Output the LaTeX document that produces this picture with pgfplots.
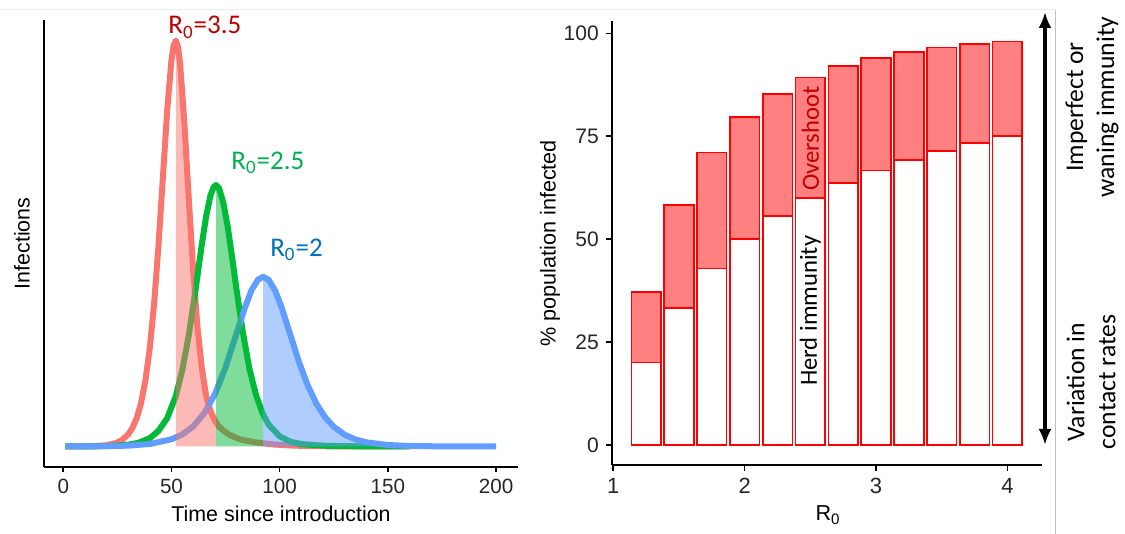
\documentclass[border=0pt]{standalone}
\usepackage{fontspec}
\setmainfont{Liberation Sans}
\newfontfamily\calfont{Carlito}
\usepackage{pgfplots}
\usepackage{pgfplotstable}
\pgfplotsset{compat=1.18}
\usetikzlibrary{arrows.meta}

\definecolor{cRed}{HTML}{F8766D}
\definecolor{cGreen}{HTML}{00BA38}
\definecolor{cBlue}{HTML}{619CFF}
\definecolor{lRed}{HTML}{C00000}
\definecolor{lGreen}{HTML}{00B050}
\definecolor{lBlue}{HTML}{0070C0}
\definecolor{barFill}{HTML}{FF8080}

\pgfplotstableread{
t v
1 0
10 0.0004
15 0.0011
20 0.0032
24 0.0079
27 0.0153
30 0.0299
32 0.0463
34 0.0707
36 0.108
38 0.164
40 0.243
42 0.353
44 0.495
46 0.660
48 0.826
50 0.952
51 0.988
52 1.000
53 0.985
54 0.943
56 0.794
58 0.610
60 0.436
62 0.295
64 0.194
66 0.125
68 0.088
70 0.064
70.6 0.0595
72 0.049
74 0.039
77 0.028
82 0.017
89 0.010
97 0.005
107 0.002
122 0.0005
160 0
}\redtab

\pgfplotstableread{
t v
52 1.000
53 0.985
54 0.943
56 0.794
58 0.610
60 0.436
62 0.295
64 0.194
66 0.125
68 0.088
70 0.064
70.6 0.0595
}\redfill

\pgfplotstableread{
t v
1 0
10 0.0002
20 0.0009
30 0.0043
35 0.0095
40 0.0205
44 0.0386
48 0.0695
52 0.124
55 0.188
58 0.274
61 0.381
64 0.497
66 0.566
68 0.618
69.5 0.639
70.6 0.644
72 0.636
74 0.600
76 0.541
78 0.467
80 0.389
83 0.281
86 0.192
89 0.128
92 0.083
92.4 0.079
95 0.053
100 0.025
105 0.0117
110 0.0060
120 0.0020
130 0.0008
140 0.0003
160 0
}\greentab

\pgfplotstableread{
t v
70.6 0.644
72 0.636
74 0.600
76 0.541
78 0.467
80 0.389
83 0.281
86 0.192
89 0.128
92 0.083
92.4 0.079
}\greenfill

\pgfplotstableread{
t v
1 0.0001
10 0.00025
20 0.0007
30 0.0021
40 0.0061
50 0.0178
55 0.0296
60 0.0493
65 0.0807
70 0.128
75 0.195
80 0.277
84 0.343
87 0.385
90 0.411
92.4 0.418
95 0.410
98 0.383
101 0.341
105 0.274
109 0.207
113 0.150
117 0.105
121 0.072
125 0.0485
130 0.029
135 0.0173
140 0.0103
150 0.0036
160 0.0012
175 0.0003
200 0
}\bluetab

\pgfplotstableread{
t v
92.4 0.418
95 0.410
98 0.383
101 0.341
105 0.274
109 0.207
113 0.150
117 0.105
121 0.072
125 0.0485
130 0.029
135 0.0173
140 0.0103
150 0.0036
160 0.0012
175 0.0003
200 0
}\bluefill

% herd immunity threshold and total final size (% of population)
\pgfplotstableread{
R herd total
1.25 20.00 37.14
1.50 33.33 58.28
1.75 42.86 71.05
2.00 50.00 79.68
2.25 55.56 85.31
2.50 60.00 89.26
2.75 63.64 92.03
3.00 66.67 94.05
3.25 69.23 95.51
3.50 71.43 96.60
3.75 73.33 97.41
4.00 75.00 98.02
}\bartab

\begin{document}
\begin{tikzpicture}
\useasboundingbox (0,0) rectangle (562.5pt,267pt);
\draw[black!8, line width=0.5pt] (0,262pt) -- (527.5pt,262pt);
\draw[black!25, line width=0.5pt] (527.5pt,0) -- (527.5pt,262pt);

\begin{axis}[
  at={(21.95pt,33.6pt)}, anchor=south west,
  scale only axis, width=236.85pt, height=223.3pt,
  xmin=-8.95, xmax=209.95, ymin=-0.05, ymax=1.05,
  axis lines=left, axis line style={-, line width=0.8pt},
  xtick={0,50,100,150,200}, ytick=\empty,
  tick align=outside, major tick length=2.5pt,
  tick style={black, line width=0.8pt},
  /pgf/number format/assume math mode=true,
  xticklabel style={font=\fontsize{10.3}{12}\selectfont, text=black!85},
  xlabel={Time since introduction}, ylabel={Infections},
  label style={font=\fontsize{10.7}{12}\selectfont},
  xlabel style={at={(axis description cs:0.5005,-0.1214)}, anchor=base},
  ylabel style={at={(axis description cs:-0.0464,0.5)}, anchor=center},
  clip=false]
\addplot[cRed, line width=3pt, line join=round] table[x=t,y=v] {\redtab};
\addplot[cGreen, line width=3pt, line join=round] table[x=t,y=v] {\greentab};
\addplot[cBlue, line width=3pt, line join=round] table[x=t,y=v] {\bluetab};
\addplot[draw=none, fill=cRed, fill opacity=0.5] table[x=t,y=v] {\redfill} \closedcycle;
\addplot[draw=none, fill=cGreen, fill opacity=0.5] table[x=t,y=v] {\greenfill} \closedcycle;
\addplot[draw=none, fill=cBlue, fill opacity=0.5] table[x=t,y=v] {\bluefill} \closedcycle;
\node[anchor=base west, inner sep=0pt, font=\calfont\fontsize{13.5}{16}\selectfont, text=lRed] at (axis cs:48.4,1.016) {R\textsubscript{0}=3.5};
\node[anchor=base west, inner sep=0pt, font=\calfont\fontsize{13.5}{16}\selectfont, text=lGreen] at (axis cs:77.5,0.683) {R\textsubscript{0}=2.5};
\node[anchor=base west, inner sep=0pt, font=\calfont\fontsize{13.5}{16}\selectfont, text=lBlue] at (axis cs:95.5,0.469) {R\textsubscript{0}=2};
\end{axis}

\begin{axis}[
  at={(305.9pt,34.4pt)}, anchor=south west,
  scale only axis, width=215pt, height=221.9pt,
  xmin=0.9888, xmax=4.2613, ymin=-4.9, ymax=102.9,
  axis lines=left, axis line style={-, line width=0.8pt},
  xtick={1,2,3,4}, ytick={0,25,50,75,100},
  tick align=outside, major tick length=3pt,
  tick style={black, line width=0.8pt},
  /pgf/number format/assume math mode=true,
  xticklabel style={font=\fontsize{11}{13}\selectfont, text=black!85},
  yticklabel style={font=\fontsize{10.5}{12}\selectfont, text=black!85},
  ybar, bar width=0.225,
  xlabel={R\textsubscript{0}}, ylabel={\% population infected},
  label style={font=\fontsize{10.8}{12}\selectfont},
  xlabel style={at={(axis description cs:0.503,-0.1257)}, anchor=base},
  ylabel style={at={(axis description cs:-0.1437,0.5)}, anchor=center},
  clip=false]
\addplot[bar shift=0pt, fill=barFill, draw=red, line width=0.8pt] table[x=R,y=total] {\bartab};
\addplot[bar shift=0pt, fill=white, draw=red, line width=0.8pt] table[x=R,y=herd] {\bartab};
\node[rotate=90, font=\calfont\fontsize{12.3}{14}\selectfont, text=lRed] at (axis cs:2.5,74.4) {Overshoot};
\node[rotate=90, font=\calfont\fontsize{12.3}{14}\selectfont, text=black] at (axis cs:2.5,32.6) {Herd immunity};
\end{axis}

\draw[line width=2.2pt, {Latex[length=8pt,width=6.5pt]}-{Latex[length=8pt,width=6.5pt]}] (522.5pt,44.5pt) -- (522.5pt,261pt);
\node[rotate=90, align=center, font=\calfont\fontsize{12.8}{15.5}\selectfont] at (546pt,213.5pt) {Imperfect or\\waning immunity};
\node[rotate=90, align=center, font=\calfont\fontsize{12.8}{15.5}\selectfont] at (545.5pt,76pt) {Variation in\\contact rates};
\end{tikzpicture}
\end{document}
